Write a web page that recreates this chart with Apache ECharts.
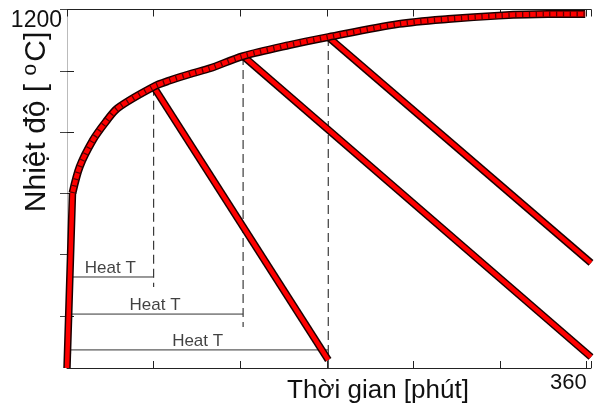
<!DOCTYPE html>
<html>
<head>
<meta charset="utf-8">
<script src="https://cdn.jsdelivr.net/npm/echarts@6/dist/echarts.min.js"></script>
<style>
  html, body { margin: 0; padding: 0; background: #fff; }
  #chart { width: 594px; height: 409px; }
</style>
</head>
<body>
<div id="chart"></div>
<script>
// Heating curve: furnace temperature vs time
const heatRampTime = [0, 3.8];
const heatRampTemp = [30, 601];
const heatCurveTime = [3.8, 8.8, 18, 27, 35, 60, 71, 87, 99, 122, 154, 181, 230, 264, 299, 333, 359];
const heatCurveTemp = [601, 687, 774, 834, 878, 948, 968, 992, 1008, 1048, 1084, 1110, 1153, 1169, 1180, 1185, 1185];

// Cooling branches leaving the curve at three hold times
const coolStartTime = [60, 122, 181];
const coolStartTemp = [948, 1048, 1110];
const coolEndTime = [181, 363, 363];
const coolEndTemp = [56, 66, 373];

// "Heat T" spans and the dashed markers at each hold time
const heatTLevel = [327, 206, 89];
const heatTLabel = ['Heat T', 'Heat T', 'Heat T'];
const dashBottom = [294, 164, 30];

// Axis ranges and ticks
const xMin = 0, xMax = 363, xInterval = 60;
const xLabelShown = [360];
const yMin = 30, yMax = 1200;
const yTicks = [200, 400, 600, 800, 1000, 1200];
const yLabelShown = [1200];

const FONT = '"Liberation Sans", Arial, sans-serif';
const RED = '#ff0000';
const EDGE = '#1a0000';

const chart = echarts.init(document.getElementById('chart'), null, { renderer: 'canvas' });

function pairs(xs, ys) { return xs.map((x, i) => [x, ys[i]]); }

const series = [];

// thin reference lines drawn first so the red curves sit on top
coolStartTime.forEach((t, i) => {
  series.push({
    type: 'line', data: [[t, coolStartTemp[i]], [t, dashBottom[i]]],
    symbol: 'none', silent: true, z: 1,
    lineStyle: { color: '#3a3a3a', width: 1.2, type: [9, 5] }
  });
  series.push({
    type: 'line', data: [[0, heatTLevel[i]], [t, heatTLevel[i]]],
    symbol: 'none', silent: true, z: 1,
    lineStyle: { color: '#333', width: 1 }
  });
});

// "Heat T" captions centred above each span
series.push({
  type: 'scatter', z: 2, silent: true, symbolSize: 0,
  data: coolStartTime.map((t, i) => ({ value: [t / 2, heatTLevel[i]], name: heatTLabel[i] })),
  label: {
    show: true, position: 'top', distance: 0, formatter: p => p.name,
    color: '#111', fontFamily: FONT, fontSize: 17
  }
});

// cooling branches: dark outline under a red core
coolStartTime.forEach((t, i) => {
  const d = [[t, coolStartTemp[i]], [coolEndTime[i], coolEndTemp[i]]];
  series.push({ type: 'line', data: d, symbol: 'none', z: 3,
    lineStyle: { color: EDGE, width: 7.5, cap: 'butt' } });
  series.push({ type: 'line', data: d, symbol: 'none', z: 4,
    lineStyle: { color: RED, width: 4.5, cap: 'butt' } });
});

// heating ramp and curve
const ramp = pairs(heatRampTime, heatRampTemp);
const curve = pairs(heatCurveTime, heatCurveTemp);
const SMOOTH = 0.3;
series.push({ type: 'line', data: ramp, symbol: 'none', z: 5,
  lineStyle: { color: EDGE, width: 7.5 } });
series.push({ type: 'line', data: curve, symbol: 'none', smooth: SMOOTH, z: 5,
  lineStyle: { color: EDGE, width: 8 } });
series.push({ type: 'line', data: ramp, symbol: 'none', z: 6,
  lineStyle: { color: RED, width: 4.5 } });
series.push({ type: 'line', data: curve, symbol: 'none', smooth: SMOOTH, z: 6,
  lineStyle: { color: RED, width: 5 } });
// segment dividers along the measured curve
series.push({ type: 'line', data: curve, symbol: 'none', smooth: SMOOTH, z: 7,
  lineStyle: { color: '#400000', width: 5, type: [1.3, 5.5], opacity: 0.85 } });

const axisLineStyle = { show: true, lineStyle: { color: '#222', width: 1 } };

const option = {
  animation: false,
  backgroundColor: '#fff',
  grid: { left: 67, right: 1, top: 9.5, bottom: 41, show: false },
  xAxis: [
    {
      type: 'value', min: xMin, max: xMax, interval: xInterval, position: 'bottom',
      axisLine: axisLineStyle,
      axisTick: { show: true, inside: true, length: 7, lineStyle: { color: '#222' } },
      axisLabel: {
        show: true, margin: 4, align: 'right', color: '#111', fontFamily: FONT, fontSize: 22,
        formatter: v => (xLabelShown.indexOf(v) >= 0 ? String(v) : '')
      },
      splitLine: { show: false }
    },
    {
      type: 'value', min: xMin, max: xMax, interval: xInterval, position: 'top',
      axisLine: axisLineStyle,
      axisTick: { show: true, inside: true, length: 7, lineStyle: { color: '#222' } },
      axisLabel: { show: false },
      splitLine: { show: false }
    }
  ],
  yAxis: [
    {
      type: 'value', min: yMin, max: yMax, position: 'left',
      axisLine: axisLineStyle,
      axisTick: { show: true, inside: true, length: 7, customValues: yTicks, lineStyle: { color: '#222' } },
      axisLabel: {
        show: true, customValues: yLabelShown, margin: 5, verticalAlign: 'top',
        color: '#111', fontFamily: FONT, fontSize: 23,
        formatter: v => String(v)
      },
      splitLine: { show: false }
    },
    {
      type: 'value', min: yMin, max: yMax, position: 'right',
      axisLine: { show: true, lineStyle: { color: '#bbb', width: 1 } },
      axisTick: { show: true, inside: true, length: 7, customValues: yTicks, lineStyle: { color: '#444' } },
      axisLabel: { show: false },
      splitLine: { show: false }
    }
  ],
  graphic: [
    {
      type: 'text', x: 378, y: 391,
      style: {
        text: 'Thời gian [phút]', fill: '#111', font: '26px ' + FONT,
        align: 'center', verticalAlign: 'middle'
      }
    },
    {
      type: 'text', x: 37, y: 122, rotation: Math.PI / 2,
      style: {
        text: '{a|Nhiệt độ [ }{s|o}{a|C]}', align: 'center', verticalAlign: 'middle',
        rich: {
          a: { fontFamily: FONT, fontSize: 30, fill: '#111' },
          s: { fontFamily: FONT, fontSize: 21, fill: '#111', padding: [0, 2, 13, 0] }
        }
      }
    }
  ],
  series: series
};

chart.setOption(option);
</script>
</body>
</html>
